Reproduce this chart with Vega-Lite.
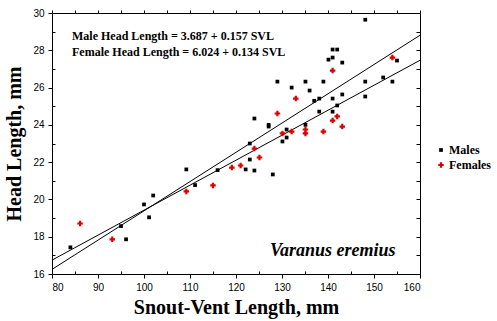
{
  "$schema": "https://vega.github.io/schema/vega-lite/v6.json",
  "width": 368,
  "height": 261,
  "autosize": "none",
  "padding": {"left": 52, "top": 13, "right": 77, "bottom": 47},
  "background": "white",
  "config": {
    "view": {"stroke": null},
    "axis": {
      "grid": false,
      "domainColor": "black",
      "tickColor": "black",
      "labelColor": "black",
      "titleColor": "black",
      "labelFont": "Liberation Sans",
      "labelFontSize": 10,
      "titleFont": "Liberation Serif",
      "titleFontWeight": "bold",
      "titleFontSize": 20
    }
  },
  "datasets": {
    "pts": [
      {"svl": 84, "hl": 17.43, "sex": "Males"},
      {"svl": 95, "hl": 18.57, "sex": "Males"},
      {"svl": 96.1, "hl": 17.86, "sex": "Males"},
      {"svl": 100, "hl": 19.73, "sex": "Males"},
      {"svl": 101.1, "hl": 19.04, "sex": "Males"},
      {"svl": 102, "hl": 20.21, "sex": "Males"},
      {"svl": 109.2, "hl": 21.61, "sex": "Males"},
      {"svl": 111.1, "hl": 20.77, "sex": "Males"},
      {"svl": 116, "hl": 21.57, "sex": "Males"},
      {"svl": 122.1, "hl": 21.61, "sex": "Males"},
      {"svl": 123, "hl": 23.0, "sex": "Males"},
      {"svl": 123, "hl": 22.14, "sex": "Males"},
      {"svl": 124, "hl": 24.34, "sex": "Males"},
      {"svl": 124, "hl": 21.55, "sex": "Males"},
      {"svl": 127.1, "hl": 24.0, "sex": "Males"},
      {"svl": 127.1, "hl": 23.91, "sex": "Males"},
      {"svl": 128, "hl": 21.34, "sex": "Males"},
      {"svl": 129, "hl": 26.32, "sex": "Males"},
      {"svl": 130.1, "hl": 23.11, "sex": "Males"},
      {"svl": 131, "hl": 23.75, "sex": "Males"},
      {"svl": 131, "hl": 23.32, "sex": "Males"},
      {"svl": 132.1, "hl": 26.0, "sex": "Males"},
      {"svl": 135.1, "hl": 26.32, "sex": "Males"},
      {"svl": 135.1, "hl": 24.0, "sex": "Males"},
      {"svl": 136, "hl": 25.84, "sex": "Males"},
      {"svl": 137, "hl": 25.29, "sex": "Males"},
      {"svl": 138.1, "hl": 25.41, "sex": "Males"},
      {"svl": 138.1, "hl": 24.71, "sex": "Males"},
      {"svl": 139, "hl": 26.32, "sex": "Males"},
      {"svl": 140.1, "hl": 27.5, "sex": "Males"},
      {"svl": 141, "hl": 27.61, "sex": "Males"},
      {"svl": 141, "hl": 28.04, "sex": "Males"},
      {"svl": 142, "hl": 28.04, "sex": "Males"},
      {"svl": 141, "hl": 25.41, "sex": "Males"},
      {"svl": 141, "hl": 24.71, "sex": "Males"},
      {"svl": 142, "hl": 25.04, "sex": "Males"},
      {"svl": 143.1, "hl": 27.34, "sex": "Males"},
      {"svl": 143.1, "hl": 25.63, "sex": "Males"},
      {"svl": 148.1, "hl": 29.64, "sex": "Males"},
      {"svl": 148.1, "hl": 26.32, "sex": "Males"},
      {"svl": 148.1, "hl": 25.52, "sex": "Males"},
      {"svl": 152, "hl": 26.54, "sex": "Males"},
      {"svl": 154, "hl": 26.32, "sex": "Males"},
      {"svl": 155, "hl": 27.45, "sex": "Males"},
      {"svl": 86.1, "hl": 18.71, "sex": "Females"},
      {"svl": 93.1, "hl": 17.86, "sex": "Females"},
      {"svl": 109.2, "hl": 20.43, "sex": "Females"},
      {"svl": 115, "hl": 20.75, "sex": "Females"},
      {"svl": 119.1, "hl": 21.71, "sex": "Females"},
      {"svl": 121, "hl": 21.82, "sex": "Females"},
      {"svl": 124, "hl": 22.73, "sex": "Females"},
      {"svl": 125.1, "hl": 22.25, "sex": "Females"},
      {"svl": 129, "hl": 24.61, "sex": "Females"},
      {"svl": 130.1, "hl": 23.54, "sex": "Females"},
      {"svl": 132.1, "hl": 23.64, "sex": "Females"},
      {"svl": 133, "hl": 25.41, "sex": "Females"},
      {"svl": 135.1, "hl": 23.75, "sex": "Females"},
      {"svl": 135.1, "hl": 23.54, "sex": "Females"},
      {"svl": 139, "hl": 23.64, "sex": "Females"},
      {"svl": 141, "hl": 26.91, "sex": "Females"},
      {"svl": 141, "hl": 24.23, "sex": "Females"},
      {"svl": 142, "hl": 24.45, "sex": "Females"},
      {"svl": 143.1, "hl": 23.91, "sex": "Females"},
      {"svl": 154, "hl": 27.61, "sex": "Females"}
    ],
    "fits": [
      {"svl": 80, "hl": 16.247, "line": "Male"},
      {"svl": 160, "hl": 28.807, "line": "Male"},
      {"svl": 80, "hl": 16.744, "line": "Female"},
      {"svl": 160, "hl": 27.464, "line": "Female"}
    ]
  },
  "layer": [
    {
      "data": {"name": "fits"},
      "mark": {"type": "line", "color": "black", "strokeWidth": 1, "clip": true},
      "encoding": {
        "x": {
          "field": "svl", "type": "quantitative",
          "scale": {"domain": [80, 160], "nice": false, "zero": false},
          "axis": {
            "orient": "top", "title": null, "labels": false,
            "values": [80, 85, 90, 95, 100, 105, 110, 115, 120, 125, 130, 135, 140, 145, 150, 155, 160],
            "tickSize": 3
          }
        },
        "y": {
          "field": "hl", "type": "quantitative",
          "scale": {"domain": [16, 30], "nice": false, "zero": false},
          "axis": {
            "orient": "right", "title": null, "labels": false,
            "values": [16, 17, 18, 19, 20, 21, 22, 23, 24, 25, 26, 27, 28, 29, 30],
            "tickSize": -4
          }
        },
        "detail": {"field": "line"}
      }
    },
    {
      "data": {"name": "pts"},
      "mark": {"type": "point", "filled": true, "opacity": 1, "strokeWidth": 0},
      "encoding": {
        "x": {
          "field": "svl", "type": "quantitative",
          "axis": {
            "orient": "bottom",
            "title": "Snout-Vent Length, mm",
            "values": [80, 85, 90, 95, 100, 105, 110, 115, 120, 125, 130, 135, 140, 145, 150, 155, 160],
            "labelExpr": "datum.value % 10 === 0 ? datum.label : ''",
            "tickSize": {"condition": {"test": "datum.value % 10 === 0", "value": 4}, "value": -3},
            "labelPadding": 4,
            "titlePadding": 5
          }
        },
        "y": {
          "field": "hl", "type": "quantitative",
          "axis": {
            "orient": "left",
            "title": "Head Length, mm",
            "values": [16, 17, 18, 19, 20, 21, 22, 23, 24, 25, 26, 27, 28, 29, 30],
            "labelExpr": "datum.value % 2 === 0 ? datum.label : ''",
            "tickSize": {"condition": {"test": "datum.value % 2 === 0", "value": 4}, "value": -3},
            "labelPadding": 4,
            "titlePadding": 8
          }
        },
        "color": {
          "field": "sex", "type": "nominal",
          "scale": {"domain": ["Males", "Females"], "range": ["black", "#dd0000"]},
          "legend": {
            "title": null,
            "orient": "none",
            "legendX": 383,
            "legendY": 131,
            "padding": 0,
            "labelFont": "Liberation Serif",
            "labelFontWeight": "bold",
            "labelFontSize": 12,
            "labelColor": "black",
            "rowPadding": 3,
            "symbolSize": 30,
            "labelOffset": 2
          }
        },
        "shape": {
          "field": "sex", "type": "nominal",
          "scale": {"domain": ["Males", "Females"], "range": ["square", "cross"]}
        },
        "size": {
          "field": "sex", "type": "nominal",
          "scale": {"domain": ["Males", "Females"], "range": [14, 30]},
          "legend": null
        }
      }
    },
    {
      "data": {"values": [
        {"svl": 84.35, "hl": 28.77, "label": "Male Head Length = 3.687 + 0.157 SVL"},
        {"svl": 84.35, "hl": 27.92, "label": "Female Head Length = 6.024 + 0.134 SVL"}
      ]},
      "mark": {"type": "text", "align": "left", "baseline": "middle", "font": "Liberation Serif", "fontWeight": "bold", "fontSize": 12, "color": "black"},
      "encoding": {
        "x": {"field": "svl", "type": "quantitative", "axis": null},
        "y": {"field": "hl", "type": "quantitative", "axis": null},
        "text": {"field": "label"}
      }
    },
    {
      "data": {"values": [
        {"svl": 127.4, "hl": 17.25, "label": "Varanus eremius"}
      ]},
      "mark": {"type": "text", "align": "left", "baseline": "middle", "font": "Liberation Serif", "fontWeight": "bold", "fontStyle": "italic", "fontSize": 18, "color": "black"},
      "encoding": {
        "x": {"field": "svl", "type": "quantitative", "axis": null},
        "y": {"field": "hl", "type": "quantitative", "axis": null},
        "text": {"field": "label"}
      }
    }
  ],
  "resolve": {"axis": {"x": "independent", "y": "independent"}}
}
